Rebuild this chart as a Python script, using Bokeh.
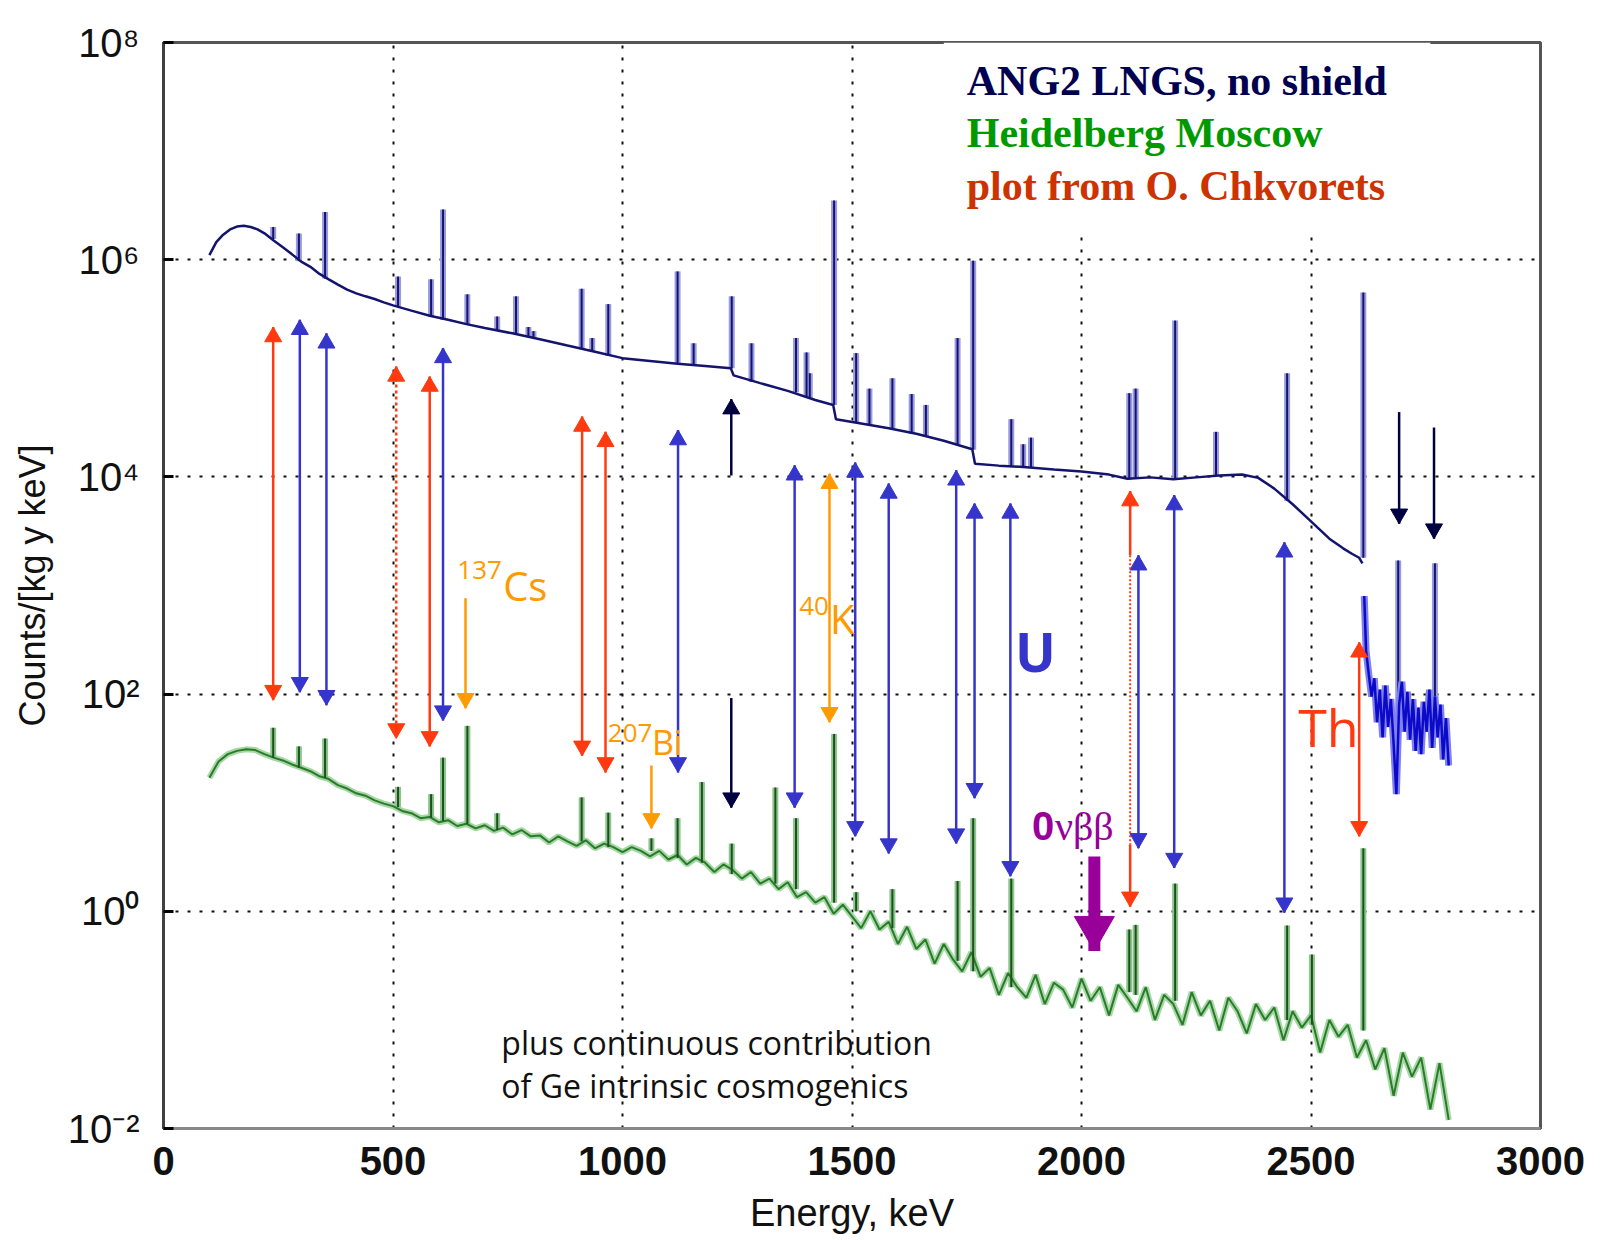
from bokeh.plotting import figure
from bokeh.models import FixedTicker, CustomJSTickFormatter, Range1d
from bokeh.embed import file_html
from bokeh.resources import INLINE
from bokeh.core.properties import value

# ---------------- data ----------------
x_ticks = [0, 500, 1000, 1500, 2000, 2500, 3000]
y_ticks = [1e-2, 1e0, 1e2, 1e4, 1e6, 1e8]

# ANG2 LNGS, no shield : continuum
blue_E = [100, 115, 130, 145, 160, 175, 190, 205, 220, 240, 260, 280, 300, 320, 340, 360, 380, 400,
          420, 440, 460, 480, 500, 540, 580, 620, 660, 700, 760, 820, 880, 940, 1000, 1060, 1120,
          1180, 1236, 1242, 1300, 1360, 1420, 1459, 1465, 1520, 1580, 1640, 1700, 1762, 1768, 1820,
          1880, 1940, 2000, 2060, 2100, 2150, 2200, 2250, 2300, 2350, 2385, 2420, 2460, 2500, 2540,
          2570, 2590, 2605, 2612]
blue_C = [1.1e6, 1.45e6, 1.7e6, 1.9e6, 2.02e6, 2.05e6, 2.0e6, 1.9e6, 1.75e6, 1.5e6, 1.3e6, 1.12e6,
          9.6e5, 8.6e5, 7.4e5, 6.6e5, 5.9e5, 5.3e5, 4.9e5, 4.6e5, 4.35e5, 4.05e5, 3.8e5, 3.4e5,
          3.05e5, 2.8e5, 2.55e5, 2.35e5, 2.1e5, 1.85e5, 1.62e5, 1.42e5, 1.24e5, 1.17e5, 1.1e5,
          1.05e5, 1.0e5, 8.6e4, 7.3e4, 6.2e4, 5.1e4, 4.6e4, 3.4e4, 3.1e4, 2.8e4, 2.5e4, 2.15e4,
          1.8e4, 1.32e4, 1.27e4, 1.23e4, 1.17e4, 1.12e4, 1.05e4, 9.6e3, 9.9e3, 9.5e3, 9.9e3,
          1.03e4, 1.05e4, 9.8e3, 7.8e3, 5.6e3, 3.9e3, 2.7e3, 2.2e3, 1.95e3, 1.8e3, 1.6e3]
# ANG2 high-energy noisy tail
tail_E = [2616, 2620, 2626, 2632, 2638, 2644, 2650, 2656, 2662, 2668, 2674, 2680, 2686, 2692, 2698,
          2704, 2710, 2716, 2722, 2728, 2734, 2740, 2746, 2752, 2758, 2764, 2770, 2776, 2782, 2788,
          2794, 2800]
tail_C = [800, 250, 150, 95, 140, 55, 110, 40, 120, 50, 90, 35, 12, 80, 130, 45, 105, 38, 90, 30,
          75, 28, 85, 45, 110, 32, 95, 40, 80, 25, 60, 22]
# ANG2 peaks: energy, top, base
bpk_E = [239, 295, 352, 511, 583, 609, 662, 727, 768, 795, 806, 911, 934, 969, 1120, 1155, 1238,
         1281, 1378, 1401, 1408, 1461, 1509, 1538, 1588, 1630, 1661, 1730, 1764, 1847, 1873, 1890,
         2104, 2118, 2204, 2293, 2448, 2614, 2690, 2770]
bpk_top = [2.0e6, 1.74e6, 2.75e6, 7.0e5, 6.6e5, 2.9e6, 4.8e5, 3.0e5, 4.6e5, 2.4e5, 2.2e5, 5.4e5,
           1.9e5, 3.9e5, 7.8e5, 1.7e5, 4.6e5, 1.7e5, 1.9e5, 1.4e5, 9.0e4, 3.5e6, 1.38e5, 6.5e4,
           8.1e4, 5.8e4, 4.6e4, 1.9e5, 9.8e5, 3.4e4, 2.0e4, 2.3e4, 5.9e4, 6.5e4, 2.75e5, 2.6e4,
           9.0e4, 5.0e5, 1.7e3, 1.6e3]
bpk_base = [1.55e6, 9.7e5, 6.7e5, 3.7e5, 3.0e5, 2.8e5, 2.55e5, 2.25e5, 2.1e5, 1.95e5, 1.9e5, 1.5e5,
            1.45e5, 1.3e5, 1.1e5, 1.07e5, 1.0e5, 7.5e4, 6.0e4, 5.5e4, 5.3e4, 4.6e4, 3.2e4, 3.0e4,
            2.8e4, 2.5e4, 2.35e4, 2.0e4, 1.78e4, 1.25e4, 1.24e4, 1.22e4, 9.5e3, 9.6e3, 9.5e3,
            1.02e4, 6.0e3, 1.8e3, 60, 70]

# Heidelberg Moscow : continuum
green_E = [100, 120, 140, 160, 180, 200, 220, 240, 260, 280, 300, 320, 340, 360, 380, 400, 420, 440,
           460, 480, 500, 520, 540, 560, 580, 600, 620, 640, 660, 680, 700, 720, 740, 760, 780, 800,
           820, 840, 860, 880, 900, 920, 940, 960, 980, 1000, 1020, 1040, 1060, 1080, 1100, 1120,
           1140, 1160, 1180, 1200, 1220, 1240, 1260, 1280, 1300, 1320, 1340, 1360, 1380, 1400,
           1420, 1440, 1460, 1480, 1500, 1520, 1540, 1560, 1580, 1600, 1620, 1640, 1660, 1680,
           1700, 1720, 1740, 1760, 1780, 1800, 1820, 1840, 1860, 1880, 1900, 1920, 1940, 1960,
           1980, 2000, 2020, 2040, 2060, 2080, 2100, 2120, 2140, 2160, 2180, 2200, 2220, 2240,
           2260, 2280, 2300, 2320, 2340, 2360, 2380, 2400, 2420, 2440, 2460, 2480, 2500, 2520,
           2540, 2560, 2580, 2600, 2620, 2640, 2660, 2680, 2700, 2720, 2740, 2760, 2780, 2800]
green_C = [17, 24, 28, 30, 31, 30.5, 28, 26, 24.5, 22.5, 21, 19.5, 17.5, 16.5, 14.5, 13.5, 12.2, 11.6,
           10.5, 9.8, 9.3, 8.4, 8.0, 7.2, 7.4, 6.6, 6.9, 6.1, 6.4, 5.8, 6.2, 5.5, 5.9,
           5.1, 5.6, 4.9, 5.0, 4.3, 4.9, 4.4, 4.0, 4.5, 3.8,
           4.2, 3.9, 3.5, 3.9, 3.6, 3.2, 3.6, 3.0, 3.3, 2.7,
           3.1, 2.8, 2.3, 2.7, 2.4, 2.0, 2.3, 1.8, 2.0, 1.6,
           1.85, 1.35, 1.5, 1.2, 1.35, 0.95, 1.15, 0.9, 0.7, 1.0,
           0.68, 0.8, 0.5, 0.72, 0.45, 0.55, 0.33, 0.5, 0.36, 0.28,
           0.42, 0.25, 0.3, 0.17, 0.27, 0.2, 0.16, 0.26, 0.14, 0.22,
           0.19, 0.13, 0.24, 0.15, 0.2, 0.11, 0.21, 0.16, 0.12, 0.2,
           0.1, 0.17, 0.14, 0.09, 0.18, 0.11, 0.15, 0.08, 0.16, 0.12,
           0.075, 0.14, 0.1, 0.13, 0.065, 0.12, 0.085, 0.11, 0.05, 0.1,
           0.07, 0.09, 0.045, 0.065, 0.035, 0.055, 0.02, 0.05, 0.03, 0.045,
           0.015, 0.04, 0.012]
# Heidelberg Moscow peaks
gpk_E = [239, 295, 352, 511, 583, 609, 662, 727, 911, 969, 1063, 1120, 1173, 1238, 1333, 1378,
         1461, 1509, 1588, 1730, 1764, 1847, 2104, 2118, 2204, 2448, 2502, 2614]
gpk_top = [49, 33, 39, 14, 12, 26, 51, 8, 11.2, 8.1, 4.7, 7.2, 15.5, 4.2, 13.8, 7.2, 43, 1.5, 1.6,
           1.9, 7.2, 2.0, 0.68, 0.75, 1.8, 0.74, 0.4, 3.8]
gpk_base = [26, 21, 17, 9.1, 7.3, 6.8, 6.4, 5.6, 4.4, 3.9, 3.6, 3.1, 2.8, 2.2, 1.8, 1.6, 1.2, 1.0,
            0.7, 0.35, 0.28, 0.2, 0.18, 0.17, 0.15, 0.1, 0.09, 0.08]

# annotation arrows: energy, tail end, head end (double arrows have heads at both ends)
red_E = [239, 580, 912, 963]
red_y0 = [2.4e5, 8.4e4, 3.6e4, 2.6e4]
red_y1 = [88, 33, 27, 19]
red_dot_E, red_dot_y0, red_dot_y1 = [507], [1.04e5], [39]
th_E, th_y0, th_y1 = [2605], [300], [4.9]
blue_arr_E = [297, 355, 609, 1121, 1375, 1507, 1580, 1727, 1767, 1845, 2124, 2202, 2442]
blue_arr_y0 = [2.8e5, 2.1e5, 1.54e5, 2.7e4, 1.28e4, 1.36e4, 8.7e3, 1.15e4, 5.7e3, 5.7e3, 1.9e3,
               6.8e3, 2.5e3]
blue_arr_y1 = [104, 79, 57, 19, 9.0, 4.9, 3.4, 4.2, 11, 2.1, 3.8, 2.5, 0.97]
k40_E, k40_y0, k40_y1 = [1451], [1.07e4], [55]
orange_E, orange_from, orange_to = [658, 1063], [764, 22], [74, 5.8]
navy_up_E, navy_up_from, navy_up_to = [1237], [1.03e4], [5.2e4]
navy_dn_E, navy_dn_from, navy_dn_to = [1237, 2692, 2768], [92, 3.95e4, 2.85e4], [9.0, 3.7e3, 2.7e3]
r2106_E, r2106_top, r2106_mid1, r2106_mid2, r2106_bot = [2106], [7.4e3], [1.9e3], [4.1], [1.1]
nbb_E, nbb_from, nbb_to = [2028], [3.2], [0.43]

# legend box extent (energy, counts)
legend_box = dict(left=[1700], right=[2760], top=[1e8], bottom=[1.8e6])

# ---------------- figure ----------------
p = figure(width=1601, height=1240, x_range=Range1d(0, 3000), y_range=Range1d(1e-2, 1e8),
           y_axis_type="log", output_backend="svg", toolbar_location=None,
           min_border_left=163, min_border_right=61, min_border_top=42, min_border_bottom=112,
           background_fill_color="white", border_fill_color="white")
p.outline_line_color = "#555555"
p.outline_line_width = 3

# grids
p.xgrid.ticker = FixedTicker(ticks=[500, 1000, 1500, 2000, 2500])
p.ygrid.ticker = FixedTicker(ticks=[1e0, 1e2, 1e4, 1e6])
for g in (p.xgrid, p.ygrid):
    g.grid_line_color = "#111111"
    g.grid_line_dash = "3 9"
    g.grid_line_width = 2

# axes
xa = p.xaxis[0]
xa.ticker = FixedTicker(ticks=x_ticks)
xa.axis_label = "Energy, keV"
xa.axis_label_text_font = "Liberation Sans"
xa.axis_label_text_font_size = "38px"
xa.axis_label_text_font_style = "normal"
xa.axis_label_text_color = "#111111"
xa.axis_label_standoff = 14
xa.major_label_text_font = "Liberation Sans"
xa.major_label_text_font_size = "40px"
xa.major_label_text_font_style = "bold"
xa.major_label_text_color = "#111111"
xa.major_label_standoff = 18
xa.major_tick_in = 0
xa.major_tick_out = 0
xa.minor_tick_line_color = None
xa.axis_line_color = "#888888"
xa.axis_line_width = 3

ya = p.yaxis[0]
ya.ticker = FixedTicker(ticks=y_ticks)
ya.formatter = CustomJSTickFormatter(code="""
const e = Math.round(Math.log10(tick));
const m = {"-2": "\u207b\u00b2", "0": "\u2070", "2": "\u00b2", "4": "\u2074", "6": "\u2076", "8": "\u2078"};
return "10" + m[String(e)];
""")
ya.axis_label = "Counts/[kg y keV]"
ya.axis_label_text_font = "Liberation Sans"
ya.axis_label_text_font_size = "36px"
ya.axis_label_text_font_style = "normal"
ya.axis_label_text_color = "#111111"
ya.axis_label_standoff = 12
ya.major_label_text_font = "Liberation Sans"
ya.major_label_text_font_size = "40px"
ya.major_label_text_color = "#111111"
ya.major_label_standoff = 24
ya.major_tick_in = 10
ya.major_tick_out = 0
ya.major_tick_line_width = 3
ya.minor_tick_line_color = None
ya.axis_line_color = "#404040"
ya.axis_line_width = 3

# white legend panel hiding the grid behind the legend text
p.quad(**legend_box, fill_color="white", line_color=None)

# ---------------- spectra ----------------
# Heidelberg Moscow
p.line(green_E, green_C, line_color="#a6d8a6", line_width=6)
p.segment(x0=gpk_E, y0=gpk_base, x1=gpk_E, y1=gpk_top, line_color="#8cc68c", line_width=6)
p.line(green_E, green_C, line_color="#2a7a2a", line_width=2)
p.segment(x0=gpk_E, y0=gpk_base, x1=gpk_E, y1=gpk_top, line_color="#1e4f1e", line_width=2)

# ANG2
p.segment(x0=bpk_E, y0=bpk_base, x1=bpk_E, y1=bpk_top, line_color="#9a9ae0", line_width=6)
p.line(blue_E, blue_C, line_color="#14146e", line_width=2.5)
p.segment(x0=bpk_E, y0=bpk_base, x1=bpk_E, y1=bpk_top, line_color="#14146e", line_width=2)
p.line(tail_E, tail_C, line_color="#8080ee", line_width=7)
p.line(tail_E, tail_C, line_color="#0a0ac8", line_width=2.5)

# ---------------- arrows (segment + triangle head) ----------------
DECADE_PX = 108.5  # pixels per decade on the y axis


def head_centre(ys, others, size):
    # shift the marker so that its tip (not its centre) sits on the arrow end
    off = 10 ** (1.155 * size / 2 / DECADE_PX)
    return [y / off if y > o else y * off for y, o in zip(ys, others)]


def add_arrows(xs, y0s, y1s, color, dash="solid", both=True, size=17, width=2.5):
    p.segment(x0=xs, y0=y0s, x1=xs, y1=y1s, line_color=color, line_width=width, line_dash=dash)
    ends = [(y1s, y0s)] + ([(y0s, y1s)] if both else [])
    for tips, others in ends:
        cen = head_centre(tips, others, size)
        up = [i for i in range(len(xs)) if tips[i] > others[i]]
        dn = [i for i in range(len(xs)) if tips[i] <= others[i]]
        if up:
            p.scatter([xs[i] for i in up], [cen[i] for i in up], marker="triangle", size=size,
                      fill_color=color, line_color=color)
        if dn:
            p.scatter([xs[i] for i in dn], [cen[i] for i in dn], marker="inverted_triangle",
                      size=size, fill_color=color, line_color=color)


RED, BLUE, ORANGE, NAVY, PURPLE = "#ff3a10", "#3535cc", "#ff9a00", "#000040", "#990099"
add_arrows(red_E, red_y0, red_y1, RED)
add_arrows(red_dot_E, red_dot_y0, red_dot_y1, RED, dash="3 3")
add_arrows(th_E, th_y0, th_y1, RED)
add_arrows(blue_arr_E, blue_arr_y0, blue_arr_y1, BLUE)
add_arrows(k40_E, k40_y0, k40_y1, ORANGE)
add_arrows(orange_E, orange_from, orange_to, ORANGE, both=False)
add_arrows(navy_up_E, navy_up_from, navy_up_to, NAVY, both=False)
add_arrows(navy_dn_E, navy_dn_from, navy_dn_to, NAVY, both=False)
# 2104 keV: solid top, dotted middle, solid bottom
add_arrows(r2106_E, r2106_mid1, r2106_top, RED, both=False)
p.segment(x0=r2106_E, y0=r2106_mid1, x1=r2106_E, y1=r2106_mid2, line_color=RED,
          line_width=2, line_dash="2 2")
add_arrows(r2106_E, r2106_mid2, r2106_bot, RED, both=False)
# 0vbb marker
add_arrows(nbb_E, nbb_from, nbb_to, PURPLE, both=False, size=40, width=12)


# ---------------- texts ----------------
def lab(x, y, text, color, size, font="Open Sans", style="normal"):
    p.text(x=[x], y=[y], text=[text], text_color=color, text_font=value(font),
           text_font_size=f"{size}px", text_font_style=style,
           text_align="left", text_baseline="middle")


lab(1750, 4.4e7, "ANG2 LNGS, no shield", "#000050", 42, "Liberation Serif", "bold")
lab(1750, 1.46e7, "Heidelberg Moscow", "#009900", 42, "Liberation Serif", "bold")
lab(1750, 4.8e6, "plot from O. Chkvorets", "#cc3300", 42, "Liberation Serif", "bold")

lab(640, 1.4e3, "137", ORANGE, 26)
lab(740, 1.0e3, "Cs", ORANGE, 40)
lab(1385, 6.5e2, "40", ORANGE, 26)
lab(1452, 5.0e2, "K", ORANGE, 40)
lab(968, 44, "207", ORANGE, 26)
lab(1064, 36, "Bi", ORANGE, 34)
lab(1855, 2.5e2, "U", BLUE, 54, style="bold")
lab(2472, 50, "Th", RED, 52)
lab(1892, 6.1, "0", PURPLE, 40, "Liberation Sans", "bold")
lab(1942, 6.1, "\u03bd\u03b2\u03b2", PURPLE, 40, "Liberation Serif")
lab(736, 0.062, "plus continuous contribution", "#111111", 32)
lab(736, 0.025, "of Ge intrinsic cosmogenics", "#111111", 32)

open("out.html", "w").write(file_html(p, INLINE))
